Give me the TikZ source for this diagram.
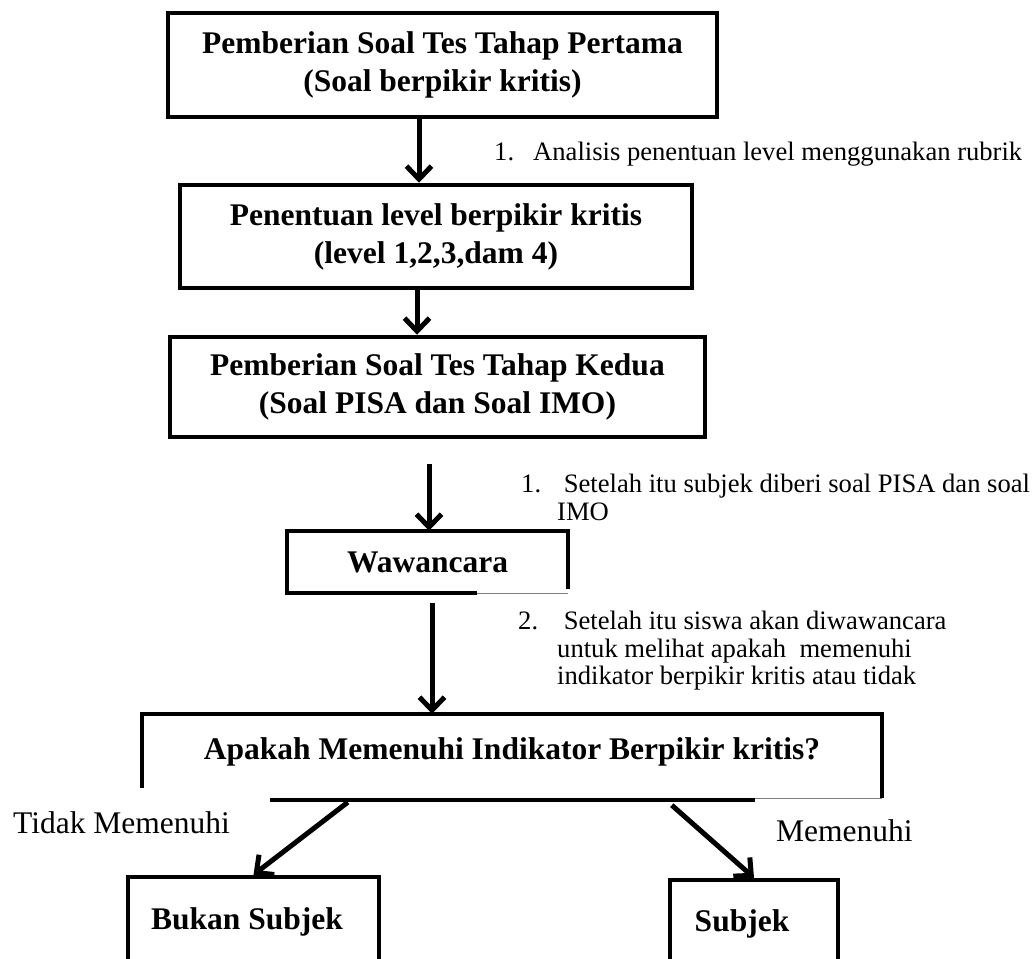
\documentclass[tikz,border=0pt]{standalone}
\usepackage{fontspec}
\setmainfont{Liberation Serif}
\usetikzlibrary{arrows.meta}
\newcommand{\bxfont}{\fontsize{31.5}{38}\selectfont\bfseries}
\newcommand{\lbfont}{\fontsize{26.6}{27.5}\selectfont}
\newcommand{\bgfont}{\fontsize{31.5}{38}\selectfont}
\begin{document}
\begin{tikzpicture}[x=1pt,y=-1pt,
  box/.style={draw, line width=4.5pt, inner sep=0pt, align=center, font=\bxfont},
  openbox/.style={inner sep=0pt, align=center, font=\bxfont},
  edgeline/.style={line width=4.5pt},
  thinline/.style={line width=1pt, draw=gray},
  arr/.style={line width=5pt, -{Straight Barb[length=13pt,width=25pt]}},
  lbl/.style={inner sep=0pt, align=left, font=\lbfont},
  biglbl/.style={inner sep=0pt, font=\bgfont}]
\useasboundingbox (0,0) rectangle (1035,958);

% boxes
\node[box, minimum width=549pt, minimum height=104pt] (b1) at (442.5,65) {Pemberian Soal Tes Tahap Pertama\\(Soal berpikir kritis)};
\node[box, minimum width=512pt, minimum height=103pt] (b2) at (436,236.5) {Penentuan level berpikir kritis\\(level 1,2,3,dam 4)};
\node[box, minimum width=535pt, minimum height=100pt] (b3) at (437.5,387) {Pemberian Soal Tes Tahap Kedua\\(Soal PISA dan Soal IMO)};
\node[openbox, minimum width=281pt, minimum height=62pt] (b4) at (427.5,562) {Wawancara};
\node[openbox, minimum width=740pt, minimum height=86pt, text height=21.7pt, text depth=16.8pt] (b5) at (512,757) {Apakah Memenuhi Indikator Berpikir kritis?};
\node[box, minimum width=251pt, minimum height=90pt] (b6) at (253.5,922) {Bukan Subjek\hspace*{13pt}};
\node[box, minimum width=168pt, minimum height=88pt] (b7) at (754,924) {Subjek\hspace*{24pt}};

% irregular borders of b4 and b5
\draw[edgeline] ([xshift=190pt]b4.south west) -- (b4.south west) -- (b4.north west) -- (b4.north east) -- ([yshift=4pt]b4.south east);
\draw[thinline] ([xshift=190pt]b4.south west) -- (b4.south east);
\draw[edgeline] ([yshift=12pt]b5.south west) -- (b5.north west) -- (b5.north east) -- ([yshift=2pt]b5.south east);
\draw[edgeline] ([xshift=128pt]b5.south west) -- ([xshift=613pt]b5.south west);
\draw[thinline] ([xshift=613pt,yshift=2pt]b5.south west) -- ([yshift=2pt]b5.south east);

% connectors
\coordinate (a1s) at ([xshift=-23.5pt]b1.south);
\coordinate (a2s) at ([xshift=-19pt]b2.south);
\coordinate (a3s) at ([xshift=-8.5pt,yshift=-25pt]b3.south);
\coordinate (a4s) at ([xshift=4.5pt,yshift=-10pt]b4.south);
\coordinate (a5s) at ([xshift=206pt,yshift=-2pt]b5.south west);
\coordinate (a6s) at ([xshift=530pt,yshift=-5pt]b5.south west);
\draw[arr] (a1s) -- (a1s |- b2.north);
\draw[arr] (a2s) -- (a2s |- b3.north);
\draw[arr] (a3s) -- (a3s |- b4.north);
\draw[arr] (a4s) -- (a4s |- b5.north);
\draw[arr] (a5s) -- (b6.north);
\draw[arr] (a6s) -- (b7.north);

% labels
\node[lbl, anchor=base west] (l1) at (494,160.5) {\makebox[39pt][l]{1.}Analisis penentuan level menggunakan rubrik};
\node[lbl, anchor=north west] (l2) at (521,474) {\makebox[36pt][l]{1.}\ Setelah itu subjek diberi soal PISA dan soal\\\hspace*{36pt}IMO};
\node[lbl, anchor=north west] (l3) at (518,611) {\makebox[39pt][l]{2.}\ Setelah itu siswa akan diwawancara\\\hspace*{39pt}untuk melihat apakah\ \ memenuhi\\\hspace*{39pt}indikator berpikir kritis atau tidak};
\node[biglbl, anchor=base west] (l4) at (13,833) {Tidak Memenuhi};
\node[biglbl, anchor=base west] (l5) at (776,841) {Memenuhi};
\end{tikzpicture}
\end{document}
